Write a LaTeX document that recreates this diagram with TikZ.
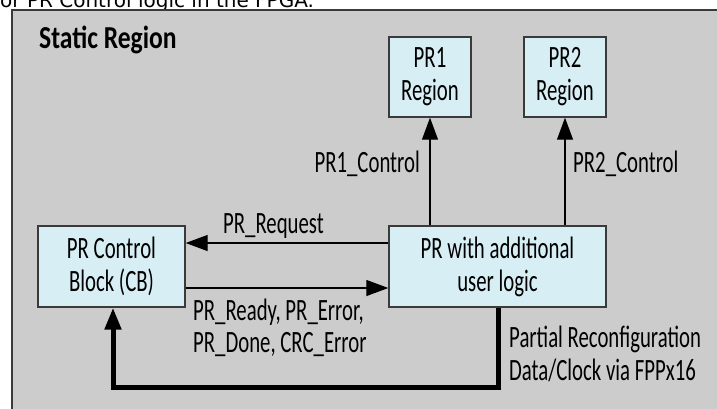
\documentclass[tikz,border=0pt]{standalone}
\usepackage{fontspec}
\setmainfont{Carlito}[FakeStretch=0.67]
\newfontfamily\boldcond{Carlito}[FakeStretch=0.80]
\newfontfamily\capfont{DejaVu Sans}
\usetikzlibrary{arrows.meta}
\definecolor{regiongray}{HTML}{CCCCCC}
\definecolor{boxblue}{HTML}{D7EEF5}
\definecolor{edgegray}{HTML}{3A3A3A}
\tikzset{
  x=1pt, y=-1pt,
  blk/.style={draw=edgegray, line width=1.4pt, fill=boxblue, align=center,
    inner sep=0pt, font=\fontsize{31}{33}\selectfont},
  lbl/.style={inner sep=0pt, font=\fontsize{31}{33}\selectfont},
  sig/.style={draw=black, line width=1.2pt, -{Triangle[length=22pt,width=16pt]}},
  bus/.style={draw=black, line width=5pt, line join=miter, -{Triangle[length=22pt,width=16pt]}}
}
\begin{document}
\begin{tikzpicture}
\useasboundingbox (0,0) rectangle (717,408);
% caption (cut off by the page edge, as in the reference)
\node[anchor=base west, inner sep=0pt] (cap) at (-7,7) {\capfont\fontsize{20}{22}\selectfont for PR Control logic in the FPGA.};
% static region
\path[draw=edgegray, line width=2pt, fill=regiongray] (12,10) rectangle (730,420);
\node[anchor=base west, inner sep=0pt, font={\boldcond\fontsize{32}{33}\selectfont\bfseries}] (static) at (39,48) {Static Region};
% blocks
\node[blk, minimum width=82pt, minimum height=80pt] (pr1) at (430,77) {PR1\\Region};
\node[blk, minimum width=82pt, minimum height=80pt] (pr2) at (565,77) {PR2\\Region};
\node[blk, minimum width=147pt, minimum height=81pt] (cb) at (111.5,266.5) {PR Control\\Block (CB)};
\node[blk, minimum width=217pt, minimum height=81pt] (pr) at (497.5,266.5) {PR with additional\\user logic};
% connectors
\draw[sig] (pr.north -| pr1) -- (pr1.south);
\draw[sig] (pr.north -| pr2) -- (pr2.south);
\draw[sig] ([yshift=23.5pt]pr.west) -- ([yshift=23.5pt]cb.east);
\draw[sig] ([yshift=-21.5pt]cb.east) -- ([yshift=-21.5pt]pr.west);
\coordinate (c1) at (498,387);
\coordinate (c2) at (113,387);
\draw[bus] (pr.south -| c1) -- (c1) -- (c2) -- (cb.south -| c2);
% labels
\node[lbl, anchor=base east] (l1) at (420,172) {PR1\_Control};
\node[lbl, anchor=base west] (l2) at (573,172) {PR2\_Control};
\node[lbl, anchor=base west] (l3) at (223,233) {PR\_Request};
\node[lbl, anchor=base west] (l4a) at (193,320) {PR\_Ready, PR\_Error,};
\node[lbl, anchor=base west] (l4b) at (193,352) {PR\_Done, CRC\_Error};
\node[lbl, anchor=base west] (l5a) at (509,347) {Partial Reconfiguration};
\node[lbl, anchor=base west] (l5b) at (509,380) {Data/Clock via FPPx16};
\end{tikzpicture}
\end{document}
